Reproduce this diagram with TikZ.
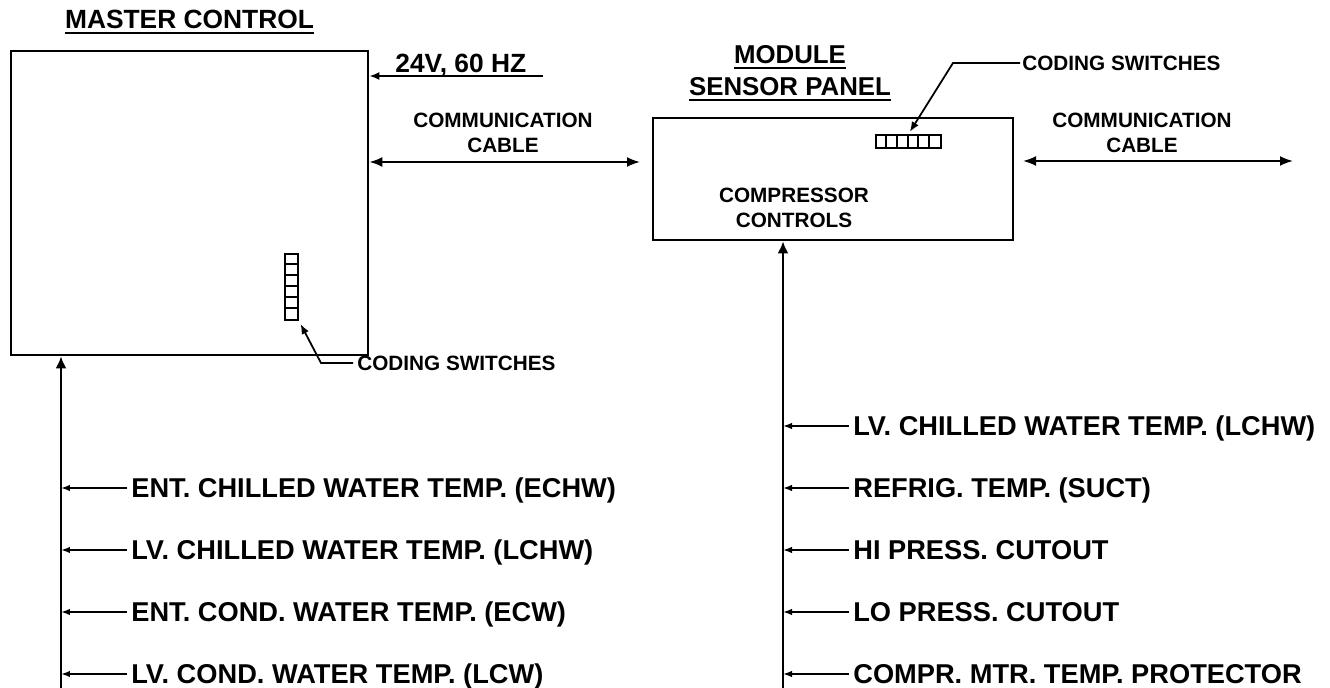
\documentclass[tikz,border=0pt]{standalone}
\usepackage{fontspec}
\setmainfont{Liberation Sans}
\usepackage{tikz}
\usetikzlibrary{arrows.meta, positioning, calc}

% thick underline for the titles
\newcommand{\undl}[1]{\leavevmode\setbox0=\hbox{#1}\rlap{\rule[-2.9pt]{\wd0}{1.1pt}}\box0}

\begin{document}
\begin{tikzpicture}[
  x=0.02cm, y=-0.02cm,
  font=\bfseries,
  every node/.style={align=center},
  panel/.style={draw, line width=1.6pt, inner sep=0pt},
  title/.style={font=\fontsize{15}{18.2}\selectfont\bfseries, inner sep=0pt},
  tag/.style={font=\fontsize{11.8}{13.9}\selectfont\bfseries, inner sep=0pt},
  sig/.style={font=\fontsize{15.5}{18}\selectfont\bfseries, anchor=west,
              inner xsep=0.08cm, inner ysep=0pt, text height=0.39cm, text depth=0pt},
  swbox/.style={draw, line width=1.1pt, inner sep=0pt},
  bus/.style={line width=1.2pt, -{Latex[length=0.24cm, width=0.22cm]}},
  arr/.style={-{Latex[length=0.2cm, width=0.16cm]}, line width=1pt},
  sarr/.style={-{Latex[length=0.18cm, width=0.13cm]}, line width=0.9pt},
  dbl/.style={{Latex[length=0.26cm, width=0.2cm]}-{Latex[length=0.26cm, width=0.2cm]},
              line width=1.1pt}
]
\useasboundingbox (0,0) rectangle (1330,688);

%% ── Master control ─────────────────────────────────────────────────────────
\node[panel, minimum width=7.14cm, minimum height=6.08cm] (master) at (189.5,203) {};
\node[title, anchor=south] (mtitle) at (189.5,34) {\undl{MASTER CONTROL}};

\coordinate (pw) at (543,76);
\node[title, anchor=base west] (pwr) at (395,73) {24V, 60 HZ};
\draw[arr] (pw) -- (pw -| master.east);

% coding switches, vertical stack
\node[swbox, minimum width=0.26cm, minimum height=1.32cm] (msw) at (291.5,287) {};
\foreach \i in {1,...,5}
  \draw[line width=1.1pt] ([yshift=-\i*0.22cm]msw.north west) -- ++(13,0);
\node[tag, anchor=west, inner xsep=0.08cm] (mcode) at (353,363) {CODING SWITCHES};
\draw[arr, shorten >=2pt] (mcode.west) -- ++(-32,0) -- (msw.south east);

%% ── Module sensor panel ────────────────────────────────────────────────────
\node[panel, minimum width=7.2cm, minimum height=2.44cm] (module) at (833,179) {};
\node[title, font=\fontsize{14.7}{18.2}\selectfont\bfseries, anchor=south]
      (ntitle) at (790,101) {\undl{MODULE}\\\undl{SENSOR PANEL}};
\node[tag] (ctrl) at (794,208) {COMPRESSOR\\CONTROLS};

% coding switches, horizontal row
\node[swbox, minimum width=1.3cm, minimum height=0.26cm] (nsw) at (908.5,141.5) {};
\foreach \i in {1,...,5}
  \draw[line width=1.1pt] ([xshift=\i*0.2167cm]nsw.north west) -- ++(0,13);
\node[tag, anchor=west, inner xsep=0.04cm] (ncode) at (1020,63) {CODING SWITCHES};
\draw[arr, shorten >=1.5pt] (ncode.west) -- ++(-67,0) -- (nsw.north);

%% ── Communication cables ───────────────────────────────────────────────────
\node[tag] (commL) at (503,133) {COMMUNICATION\\CABLE};
\node[tag] (commR) at (1142,133) {COMMUNICATION\\CABLE};
\coordinate (cl) at (640,162);
\coordinate (cr1) at (1023,161);
\coordinate (cr2) at (1293,161);
\draw[dbl] (cl -| master.east) -- (cl);
\draw[dbl] (cr1) -- (cr2);

%% ── Sensor inputs ──────────────────────────────────────────────────────────
\coordinate (lbus) at (61,688);
\coordinate (rbus) at (783,688);
\draw[bus] (lbus) -- (lbus |- master.south);
\draw[bus] (rbus) -- (rbus |- module.south);

\foreach \n/\yy/\txt in {ech/488/{ENT. CHILLED WATER TEMP. (ECHW)},
                         lch/550/{LV. CHILLED WATER TEMP. (LCHW)},
                         ecw/612/{ENT. COND. WATER TEMP. (ECW)},
                         lcw/674/{LV. COND. WATER TEMP. (LCW)}} {
  \node[sig] (m\n) at (127,\yy) {\txt};
  \draw[sarr] (m\n.west) -- (lbus |- m\n.west);
}

\foreach \n/\yy/\txt in {lch/426/{LV. CHILLED WATER TEMP. (LCHW)},
                         suct/488/{REFRIG. TEMP. (SUCT)},
                         hi/550/{HI PRESS. CUTOUT},
                         lo/612/{LO PRESS. CUTOUT},
                         mtr/674/{COMPR. MTR. TEMP. PROTECTOR}} {
  \node[sig] (s\n) at (849,\yy) {\txt};
  \draw[sarr] (s\n.west) -- (rbus |- s\n.west);
}

\end{tikzpicture}
\end{document}
